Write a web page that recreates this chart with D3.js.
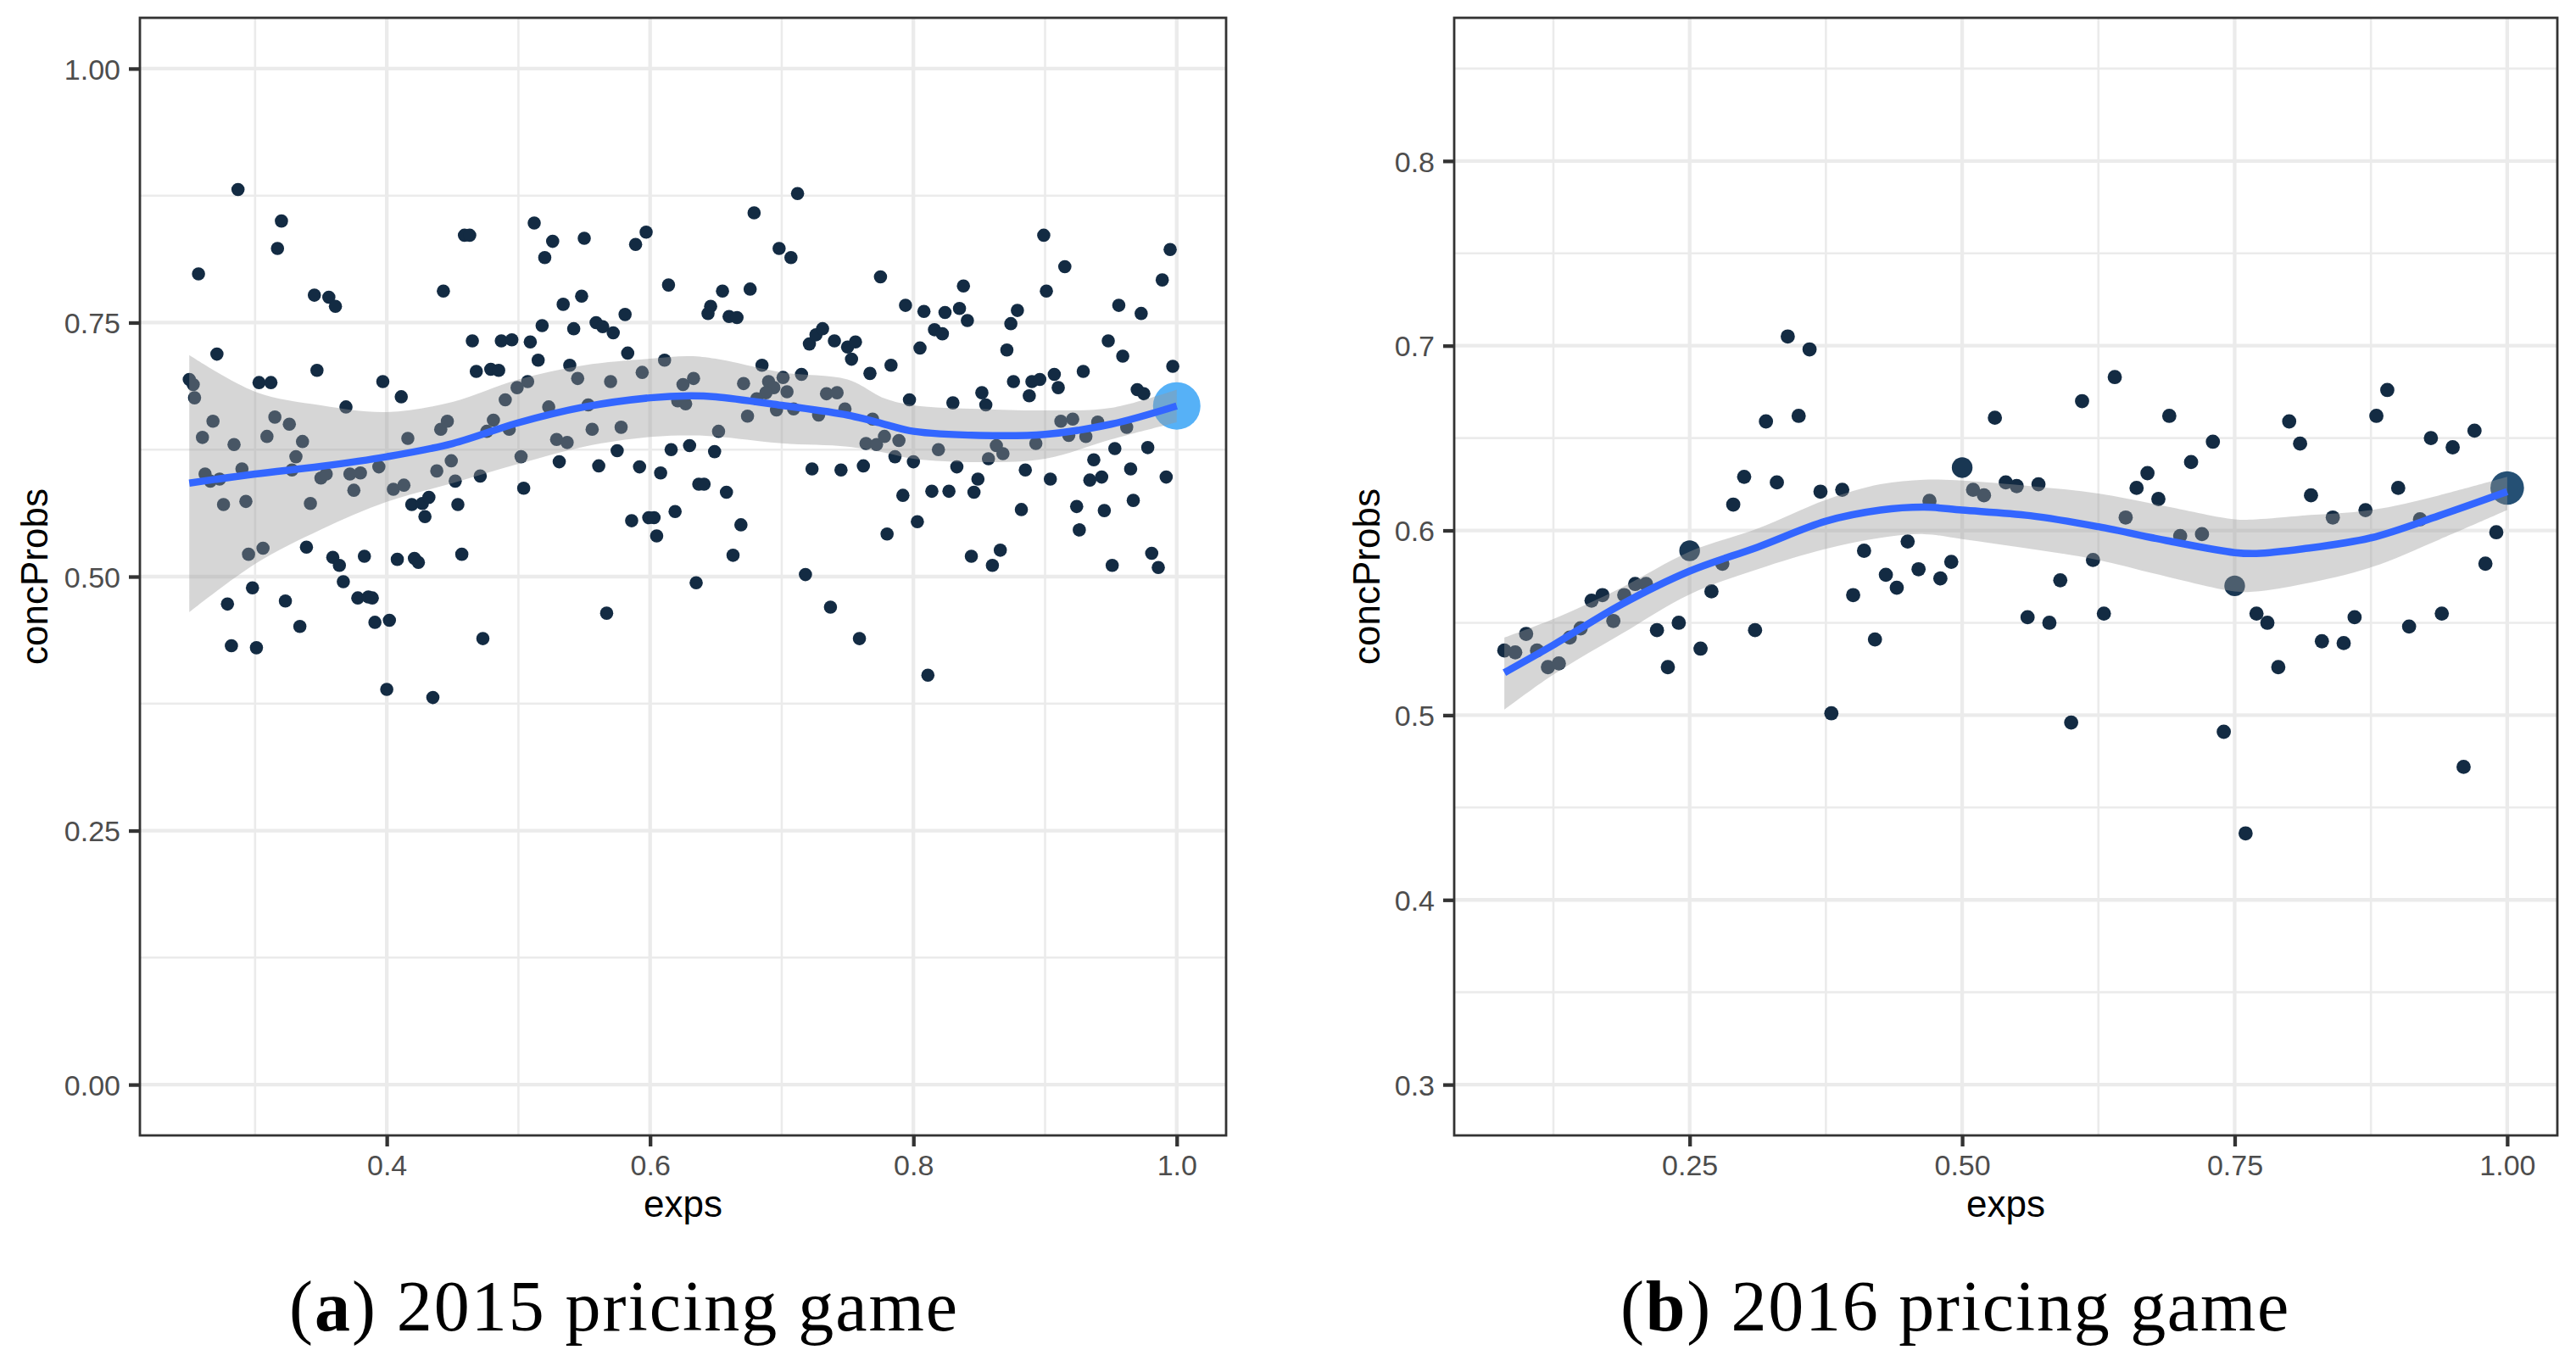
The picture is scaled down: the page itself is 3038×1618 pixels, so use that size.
<!DOCTYPE html>
<html>
<head>
<meta charset="utf-8">
<script src="https://cdn.jsdelivr.net/npm/d3@7"></script>
<style>
  body { margin: 0; background: #fff; }
</style>
</head>
<body>
<div id="chart"></div>
<script>
// ---- panel (a) 2015: points
const expsA = [
  0.287,0.320,0.317,0.257,0.345,0.356,0.361,0.459,0.463,0.443,0.271,0.250,0.253,0.254,0.347,0.303,0.312,0.397,0.369,0.411,
  0.268,0.315,0.326,0.260,0.309,0.336,0.284,0.331,0.416,0.441,0.446,0.465,0.487,0.495,0.468,0.479,0.485,0.490,0.481,0.476,
  0.493,0.262,0.266,0.273,0.290,0.328,0.350,0.354,0.372,0.380,0.394,0.375,0.405,0.413,0.438,0.449,0.452,0.471,0.276,0.293,
  0.342,0.419,0.427,0.432,0.429,0.454,0.295,0.306,0.339,0.359,0.364,0.383,0.408,0.421,0.424,0.457,0.367,0.298,0.279,0.323,
  0.378,0.386,0.389,0.334,0.391,0.402,0.282,0.301,0.473,0.400,0.435,0.499,
  0.512,0.526,0.520,0.550,0.589,0.597,0.679,0.712,0.698,0.707,0.614,0.655,0.676,0.646,0.644,0.660,0.666,0.534,0.548,0.518,
  0.542,0.559,0.564,0.572,0.581,0.509,0.515,0.539,0.583,0.545,0.507,0.570,0.594,0.611,0.625,0.633,0.621,0.627,0.671,0.685,
  0.690,0.694,0.688,0.701,0.704,0.715,0.681,0.696,0.709,0.721,0.726,0.731,0.740,0.750,0.756,0.753,0.734,0.742,0.748,0.728,
  0.523,0.553,0.674,0.652,0.529,0.537,0.556,0.578,0.502,0.531,0.575,0.616,0.630,0.649,0.504,0.561,0.592,0.608,0.723,0.745,
  0.637,0.641,0.658,0.586,0.599,0.603,0.605,0.619,0.669,0.663,0.635,0.718,0.737,0.567,
  0.762,0.759,0.764,0.769,0.772,0.778,0.775,0.767,0.783,0.789,0.786,0.794,0.797,0.800,0.805,0.808,0.816,0.822,0.824,0.835,
  0.838,0.841,0.830,0.819,0.792,0.814,0.780,0.803,0.811,0.827,0.833,0.846,0.849,0.852,0.855,0.857,0.863,0.868,0.844,0.860,
  0.866,0.871,0.874,0.879,0.876,0.890,0.896,0.888,0.885,0.882,0.893,0.899,0.901,0.915,0.907,0.910,0.912,0.921,0.918,0.931,
  0.940,0.904,0.929,0.937,0.934,0.943,0.924,0.926,0.945,0.951,0.948,0.956,0.959,0.962,0.953,0.965,0.967,0.973,0.970,0.975,
  0.978,0.981,0.986,0.989,0.995,0.997,0.992
]
const probsA = [
  0.881,0.850,0.823,0.798,0.777,0.775,0.766,0.836,0.836,0.781,0.719,0.694,0.689,0.676,0.703,0.691,0.691,0.692,0.667,0.677,
  0.653,0.657,0.650,0.637,0.638,0.633,0.630,0.618,0.636,0.645,0.653,0.732,0.732,0.733,0.702,0.704,0.703,0.674,0.654,0.643,
  0.645,0.601,0.594,0.596,0.606,0.605,0.597,0.601,0.601,0.602,0.608,0.585,0.586,0.590,0.604,0.614,0.594,0.599,0.571,0.574,
  0.572,0.571,0.572,0.578,0.559,0.571,0.522,0.528,0.529,0.519,0.511,0.520,0.517,0.518,0.514,0.522,0.495,0.489,0.473,0.476,
  0.479,0.480,0.479,0.451,0.455,0.457,0.432,0.430,0.439,0.389,0.381,0.686,
  0.848,0.830,0.814,0.833,0.827,0.839,0.858,0.877,0.823,0.814,0.787,0.781,0.783,0.766,0.759,0.756,0.755,0.768,0.776,0.747,
  0.744,0.750,0.746,0.740,0.758,0.731,0.713,0.708,0.720,0.695,0.692,0.692,0.701,0.713,0.689,0.695,0.673,0.670,0.690,0.708,
  0.692,0.686,0.681,0.696,0.682,0.699,0.675,0.664,0.665,0.729,0.738,0.744,0.732,0.726,0.731,0.714,0.680,0.681,0.665,0.659,
  0.667,0.669,0.658,0.643,0.635,0.632,0.645,0.647,0.618,0.613,0.624,0.625,0.629,0.623,0.587,0.609,0.608,0.602,0.606,0.605,
  0.591,0.591,0.583,0.555,0.558,0.558,0.540,0.564,0.551,0.521,0.494,0.502,0.470,0.464,
  0.609,0.439,0.631,0.655,0.630,0.638,0.795,0.700,0.708,0.634,0.618,0.767,0.674,0.613,0.725,0.761,0.743,0.739,0.760,0.764,
  0.786,0.752,0.671,0.625,0.580,0.584,0.542,0.554,0.403,0.584,0.608,0.583,0.596,0.681,0.669,0.616,0.629,0.621,0.520,0.511,
  0.526,0.723,0.749,0.762,0.692,0.692,0.694,0.678,0.605,0.566,0.631,0.836,0.781,0.805,0.699,0.686,0.653,0.655,0.639,0.638,
  0.652,0.596,0.702,0.615,0.595,0.598,0.569,0.546,0.565,0.511,0.732,0.767,0.717,0.647,0.626,0.606,0.575,0.759,0.684,0.680,
  0.627,0.523,0.509,0.792,0.822,0.707,0.598
]
// points with a larger count (size + colour mapped)
const bigExpsA = [1.0]
const bigProbsA = [0.668]
const bigNA = [12]

// smoother (fit + confidence band)
const smoothXA = [0.25, 0.30, 0.35, 0.40, 0.45, 0.50, 0.55, 0.60, 0.63, 0.65, 0.70, 0.75, 0.778, 0.80, 0.85, 0.90, 0.95, 1.0]
const smoothFitA = [0.592, 0.601, 0.6085, 0.618, 0.631, 0.6515, 0.667, 0.676, 0.678, 0.677, 0.6686, 0.659, 0.650, 0.643, 0.639, 0.640, 0.650, 0.668]
const smoothHiA = [0.718, 0.682, 0.6686, 0.662, 0.672, 0.694, 0.708, 0.7144, 0.717, 0.7144, 0.701, 0.694, 0.6754, 0.6686, 0.665, 0.6635, 0.666, 0.684]
const smoothLoA = [0.465, 0.5125, 0.5464, 0.5736, 0.592, 0.611, 0.628, 0.6374, 0.639, 0.638, 0.6313, 0.628, 0.622, 0.616, 0.6126, 0.616, 0.635, 0.652]

// ---- panel (b) 2016: points
const expsB = [
  0.08,0.09,0.10,0.11,0.12,0.13,0.14,0.15,0.16,0.17,0.18,0.19,0.20,0.21,0.22,0.23,0.24,
  0.26,0.27,0.28,0.29,0.30,0.31,0.32,0.33,0.34,0.35,0.36,0.37,0.38,0.39,0.40,0.41,0.42,0.43,0.44,0.45,0.46,0.47,0.48,0.49,
  0.51,0.52,0.53,0.54,0.55,0.56,0.57,0.58,0.59,0.60,0.61,0.62,0.63,0.64,0.65,0.66,0.67,0.68,0.69,0.70,0.71,0.72,0.73,0.74,
  0.76,0.77,0.78,0.79,0.80,0.81,0.82,0.83,0.84,0.85,0.86,0.87,0.88,0.89,0.90,0.91,0.92,0.93,0.94,0.95,0.96,0.97,0.98,0.99
]
const probsB = [
  0.535,0.534,0.544,0.535,0.526,0.528,0.542,0.547,0.562,0.565,0.551,0.565,0.571,0.571,0.546,0.526,0.550,
  0.536,0.567,0.582,0.614,0.629,0.546,0.659,0.626,0.705,0.662,0.698,0.621,0.501,0.622,0.565,0.589,0.541,0.576,0.569,0.594,0.579,0.616,0.574,0.583,
  0.622,0.619,0.661,0.626,0.624,0.553,0.625,0.550,0.573,0.496,0.670,0.584,0.555,0.683,0.607,0.623,0.631,0.617,0.662,0.597,0.637,0.598,0.648,0.491,
  0.436,0.555,0.550,0.526,0.659,0.647,0.619,0.540,0.607,0.539,0.553,0.611,0.662,0.676,0.623,0.548,0.606,0.650,0.555,0.645,0.472,0.654,0.582,0.599
]
const bigExpsB = [0.25, 0.50, 0.75, 1.00]
const bigProbsB = [0.589, 0.634, 0.570, 0.623]
const bigNB = [2, 2, 2, 4]

const smoothXB = [0.08, 0.125, 0.1875, 0.25, 0.3125, 0.375, 0.425, 0.465, 0.50, 0.5625, 0.625, 0.6875, 0.75, 0.77, 0.8125, 0.875, 0.9375, 1.0]
const smoothFitB = [0.523, 0.538, 0.560, 0.578, 0.591, 0.605, 0.611, 0.6126, 0.611, 0.608, 0.602, 0.5945, 0.588, 0.5875, 0.590, 0.596, 0.608, 0.621]
const smoothHiB = [0.542, 0.552, 0.569, 0.5885, 0.601, 0.6165, 0.625, 0.6275, 0.627, 0.624, 0.620, 0.613, 0.606, 0.606, 0.608, 0.611, 0.619, 0.629]
const smoothLoB = [0.503, 0.522, 0.544, 0.5654, 0.579, 0.590, 0.596, 0.598, 0.5953, 0.590, 0.584, 0.575, 0.567, 0.567, 0.571, 0.580, 0.595, 0.611]

// ticks
const xTicksA = [0.4, 0.6, 0.8, 1.0]
const xMinorA = [0.3, 0.5, 0.7, 0.9]
const yTicksA = [0.00, 0.25, 0.50, 0.75, 1.00]
const yMinorA = [0.125, 0.375, 0.625, 0.875]
const xTicksB = [0.25, 0.50, 0.75, 1.00]
const xMinorB = [0.125, 0.375, 0.625, 0.875]
const yTicksB = [0.3, 0.4, 0.5, 0.6, 0.7, 0.8]
const yMinorB = [0.35, 0.45, 0.55, 0.65, 0.75, 0.85]

const W = 3038, H = 1618
const sans = '"Liberation Sans", Arial, Helvetica, sans-serif'
const svg = d3.select('#chart').append('svg')
    .attr('width', W)
    .attr('height', H)
svg.append('rect').attr('width', W).attr('height', H).attr('fill', '#fff')

// ggplot default continuous gradient
const colour = d3.scaleLinear().domain([1, 12]).range(['#132B43', '#56B1F7'])

function drawPanel(p) {
    const x = d3.scaleLinear().domain(p.xDomain).range([p.left, p.right])
    const y = d3.scaleLinear().domain(p.yDomain).range([p.bottom, p.top])
    const r = d3.scaleLinear().domain(p.nDomain).range(p.rRange)
    const g = svg.append('g')

    // grid
    g.selectAll('.vmin').data(p.xMinor).enter().append('line')
        .attr('x1', d => x(d)).attr('x2', d => x(d)).attr('y1', p.top).attr('y2', p.bottom)
        .attr('stroke', '#EBEBEB').attr('stroke-width', 2.6)
    g.selectAll('.hmin').data(p.yMinor).enter().append('line')
        .attr('y1', d => y(d)).attr('y2', d => y(d)).attr('x1', p.left).attr('x2', p.right)
        .attr('stroke', '#EBEBEB').attr('stroke-width', 2.6)
    g.selectAll('.vmaj').data(p.xTicks).enter().append('line')
        .attr('x1', d => x(d)).attr('x2', d => x(d)).attr('y1', p.top).attr('y2', p.bottom)
        .attr('stroke', '#EBEBEB').attr('stroke-width', 4.3)
    g.selectAll('.hmaj').data(p.yTicks).enter().append('line')
        .attr('y1', d => y(d)).attr('y2', d => y(d)).attr('x1', p.left).attr('x2', p.right)
        .attr('stroke', '#EBEBEB').attr('stroke-width', 4.3)

    // points
    const pts = p.exps.map((e, i) => ({x: e, y: p.probs[i], n: 1}))
    p.bigExps.forEach((e, i) => pts.push({x: e, y: p.bigProbs[i], n: p.bigN[i]}))
    g.selectAll('circle').data(pts).enter().append('circle')
        .attr('cx', d => x(d.x))
        .attr('cy', d => y(d.y))
        .attr('r', d => r(d.n))
        .attr('fill', d => colour(d.n))

    // smoother
    const sm = p.smX.map((v, i) => ({x: v, fit: p.smFit[i], hi: p.smHi[i], lo: p.smLo[i]}))
    g.append('path').datum(sm)
        .attr('d', d3.area().x(d => x(d.x)).y0(d => y(d.lo)).y1(d => y(d.hi)).curve(d3.curveCatmullRom))
        .attr('fill', '#999999').attr('fill-opacity', 0.4)
    g.append('path').datum(sm)
        .attr('d', d3.line().x(d => x(d.x)).y(d => y(d.fit)).curve(d3.curveCatmullRom))
        .attr('fill', 'none').attr('stroke', '#3366FF').attr('stroke-width', 8.5)

    // frame
    g.append('rect')
        .attr('x', p.left).attr('y', p.top)
        .attr('width', p.right - p.left).attr('height', p.bottom - p.top)
        .attr('fill', 'none').attr('stroke', '#333333').attr('stroke-width', 2.8)

    // axes
    const ax = g.append('g').attr('transform', `translate(0,${p.bottom})`)
        .call(d3.axisBottom(x).tickValues(p.xTicks).tickFormat(d3.format(p.xFmt)).tickSize(13).tickPadding(10))
    const ay = g.append('g').attr('transform', `translate(${p.left},0)`)
        .call(d3.axisLeft(y).tickValues(p.yTicks).tickFormat(d3.format(p.yFmt)).tickSize(13).tickPadding(10))
    ;[ax, ay].forEach(a => {
        a.select('.domain').remove()
        a.selectAll('.tick line').attr('stroke', '#333333').attr('stroke-width', 4.3)
        a.selectAll('.tick text').attr('fill', '#4D4D4D')
            .style('font-family', sans).style('font-size', '34px')
    })
    ay.selectAll('.tick text').attr('dy', '0.36em')

    // titles
    g.append('text')
        .attr('x', (p.left + p.right) / 2).attr('y', 1435)
        .attr('text-anchor', 'middle')
        .style('font-family', sans).style('font-size', '44px')
        .text('exps')
    g.append('text')
        .attr('transform', `translate(${p.yTitleX},${(p.top + p.bottom) / 2}) rotate(-90)`)
        .attr('text-anchor', 'middle')
        .style('font-family', sans).style('font-size', '44px')
        .text('concProbs')

    // caption
    const cap = svg.append('text')
        .attr('x', p.capX).attr('y', 1569)
        .attr('text-anchor', 'middle')
        .style('font-family', '"Liberation Serif", "Times New Roman", serif')
        .style('font-size', '84px')
    cap.append('tspan').text('(')
    cap.append('tspan').style('font-weight', 'bold').text(p.letter)
    cap.append('tspan').text(') ' + p.caption)
    const w = cap.node().getComputedTextLength()
    const n = (p.letter.length + p.caption.length + 3)
    cap.style('letter-spacing', ((790 - w) / n) + 'px')
}

drawPanel({
    left: 165, right: 1446, top: 21, bottom: 1339,
    xDomain: [0.2125, 1.0375], yDomain: [-0.05, 1.05],
    xTicks: xTicksA, xMinor: xMinorA, yTicks: yTicksA, yMinor: yMinorA,
    xFmt: '.1f', yFmt: '.2f',
    exps: expsA, probs: probsA, bigExps: bigExpsA, bigProbs: bigProbsA, bigN: bigNA,
    nDomain: [1, 12], rRange: [7.8, 28],
    smX: smoothXA, smFit: smoothFitA, smHi: smoothHiA, smLo: smoothLoA,
    yTitleX: 56, capX: 736, letter: 'a', caption: '2015 pricing game'
})

drawPanel({
    left: 1715, right: 3016, top: 21, bottom: 1339,
    xDomain: [0.034, 1.046], yDomain: [0.2725, 0.8775],
    xTicks: xTicksB, xMinor: xMinorB, yTicks: yTicksB, yMinor: yMinorB,
    xFmt: '.2f', yFmt: '.1f',
    exps: expsB, probs: probsB, bigExps: bigExpsB, bigProbs: bigProbsB, bigN: bigNB,
    nDomain: [1, 4], rRange: [8.4, 19.8],
    smX: smoothXB, smFit: smoothFitB, smHi: smoothHiB, smLo: smoothLoB,
    yTitleX: 1627, capX: 2306, letter: 'b', caption: '2016 pricing game'
})
</script>
</body>
</html>
